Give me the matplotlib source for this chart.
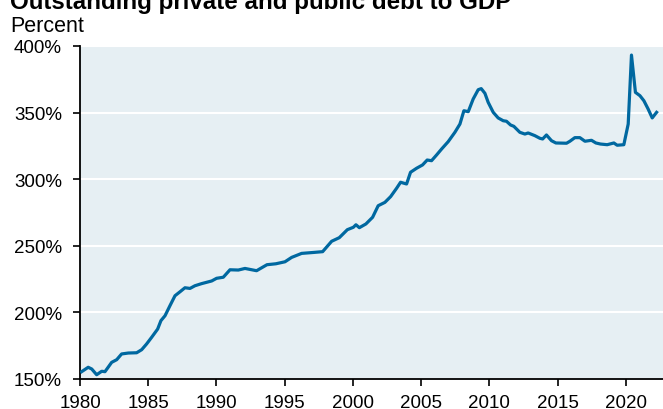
import matplotlib
matplotlib.use("Agg")
import matplotlib.pyplot as plt
from matplotlib.ticker import FuncFormatter

plt.rcParams['font.family'] = ['Liberation Sans', 'DejaVu Sans']

title = "Outstanding private and public debt to GDP"
ylabel = "Percent"

years = [1980.12, 1980.6, 1980.86, 1981.22, 1981.59, 1981.83, 1982.32, 1982.69,
         1983.05, 1983.54, 1984.15, 1984.52, 1984.88, 1985.25, 1985.69, 1985.93,
         1986.23, 1986.59, 1986.96, 1987.33, 1987.69, 1988.06, 1988.42, 1988.91,
         1989.65, 1990.01, 1990.5, 1990.99, 1991.6, 1992.09, 1992.94, 1993.7,
         1994.35, 1995.02, 1995.51, 1996.24, 1997.1, 1997.78, 1998.44, 1999.0,
         1999.59, 2000.03, 2000.22, 2000.47, 2000.95, 2001.44, 2001.85, 2002.34,
         2002.76, 2003.2, 2003.49, 2003.93, 2004.22, 2004.66, 2005.1, 2005.44,
         2005.76, 2006.13, 2006.5, 2006.98, 2007.47, 2007.84, 2008.13, 2008.45,
         2008.81, 2009.18, 2009.4, 2009.67, 2009.91, 2010.28, 2010.64, 2011.01,
         2011.25, 2011.55, 2011.79, 2012.23, 2012.6, 2012.84, 2013.33, 2013.7,
         2013.9, 2014.18, 2014.55, 2014.87, 2015.65, 2015.9, 2016.26, 2016.63,
         2017.0, 2017.48, 2017.8, 2018.14, 2018.63, 2019.12, 2019.36, 2019.85,
         2020.17, 2020.41, 2020.7, 2021.03, 2021.32, 2021.63, 2021.93, 2022.25]
debt_pct = [155.5, 158.8, 157.5, 153.2, 155.8, 155.5, 162.5, 164.5,
            168.8, 169.5, 169.7, 172.0, 176.3, 181.3, 187.5, 193.8,
            197.5, 205.0, 212.5, 215.5, 218.5, 218.0, 220.0, 221.6,
            223.6, 225.6, 226.4, 232.0, 231.8, 233.0, 231.3, 235.8,
            236.5, 238.0, 241.3, 244.3, 245.0, 245.6, 253.4, 256.1,
            262.1, 263.9, 265.8, 263.6, 266.4, 271.4, 280.1, 282.6,
            286.9, 293.2, 297.7, 296.4, 305.2, 308.2, 310.7, 314.4,
            313.9, 318.2, 322.7, 328.2, 335.2, 341.4, 351.4, 350.7,
            360.2, 367.2, 368.0, 364.5, 357.7, 350.2, 346.0, 343.9,
            343.5, 340.7, 339.7, 335.2, 333.9, 334.7, 332.7, 330.7,
            330.2, 333.2, 328.9, 327.2, 327.0, 328.5, 331.2, 331.2,
            328.5, 329.2, 327.2, 326.4, 325.9, 327.2, 325.5, 325.9,
            341.4, 393.2, 365.2, 362.7, 358.9, 352.7, 346.0, 350.2]

xticks = [1980, 1985, 1990, 1995, 2000, 2005, 2010, 2015, 2020]
yticks = [150, 200, 250, 300, 350, 400]

fig = plt.figure(figsize=(6.63, 4.10), dpi=100)
ax = fig.add_axes([80/663, 1 - 380/410, 1 - 80/663, (380 - 47)/410])
ax.set_facecolor('#e6eff3')

ax.plot(years, debt_pct, color='#0068a0', lw=2.3, solid_joinstyle='round', zorder=3)

ax.set_xlim(1980, 2022.72)
ax.set_ylim(150, 400)
ax.set_xticks(xticks)
ax.set_yticks(yticks)
ax.yaxis.set_major_formatter(FuncFormatter(lambda v, p: f"{int(v)}%"))
ax.grid(axis='y', color='white', lw=1.5, zorder=1)
ax.set_axisbelow(True)

for s in ['top', 'right']:
    ax.spines[s].set_visible(False)
for s in ['left', 'bottom']:
    ax.spines[s].set_color('black')
    ax.spines[s].set_linewidth(1.3)

ax.tick_params(axis='y', length=5, width=1.2, pad=8, labelsize=13.5, colors='black')
ax.tick_params(axis='x', length=5, width=1.2, pad=6, labelsize=13.5, colors='black')

fig.text(10/663, 1 - 9/410, title, fontsize=17.4, fontweight='bold',
         ha='left', va='baseline')
fig.text(10/663, 1 - 32/410, ylabel, fontsize=15.5, ha='left', va='baseline')

fig.savefig('out.png', dpi=100)
